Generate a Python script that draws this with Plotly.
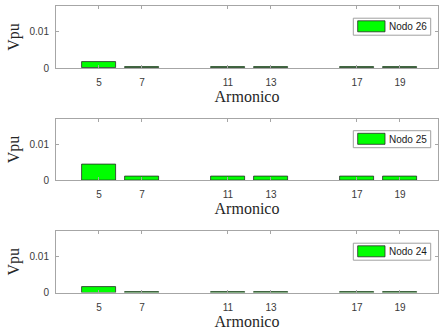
import plotly.graph_objects as go

# Harmonic orders and per-unit harmonic voltage at each node
armonicos = [5, 7, 11, 13, 17, 19]
nodo_26 = [0.0017, 0.0003, 0.0003, 0.0003, 0.0003, 0.0003]
nodo_25 = [0.0043, 0.0010, 0.0010, 0.0010, 0.0010, 0.0010]
nodo_24 = [0.0015, 0.0003, 0.0003, 0.0003, 0.0003, 0.0003]
nombres = ["Nodo 26", "Nodo 25", "Nodo 24"]
series = [nodo_26, nodo_25, nodo_24]
xticks = [5, 7, 11, 13, 17, 19]
yticks = [0, 0.01]

W, H = 440, 332
AX_L, AX_R = 56, 438
panel_px = [(6, 68), (118.5, 180.3), (231, 292.6)]  # top, bottom in pixels

GREEN = "#00ff00"
EDGE = "#2a2a2a"
AXC = "#a6a6a6"
TXT = "#3a3a3a"


def px(x):
    return x / W


def py(y):
    return 1 - y / H


fig = go.Figure()
shapes = []
annotations = []

for i, (name, vals) in enumerate(zip(nombres, series)):
    n = "" if i == 0 else str(i + 1)
    top, bot = panel_px[i]
    fig.add_trace(go.Bar(
        x=armonicos, y=vals, width=1.6, name=name,
        marker=dict(color=GREEN, line=dict(color=EDGE, width=0.8)),
        xaxis="x" + n, yaxis="y" + n, showlegend=False,
    ))
    common = dict(
        showline=True, linecolor=AXC, linewidth=1, mirror="ticks",
        ticks="inside", ticklen=3, tickcolor=AXC, showgrid=False,
        zeroline=False, automargin=False,
        tickfont=dict(family="Liberation Sans", size=10, color=TXT),
    )
    fig.layout["xaxis" + n] = dict(
        domain=[px(AX_L), px(AX_R)], anchor="y" + n, range=[3, 20.77],
        tickmode="array", tickvals=xticks, ticklabelstandoff=5,
        title=dict(text="Armonico", standoff=3,
                   font=dict(family="Liberation Serif", size=16, color="#262626")),
        **common,
    )
    fig.layout["yaxis" + n] = dict(
        domain=[py(bot), py(top)], anchor="x" + n, range=[0, 0.0171],
        tickmode="array", tickvals=yticks, ticktext=["0", "0.01"],
        ticklabelstandoff=4,
        title=dict(text="Vpu", standoff=5,
                   font=dict(family="Liberation Serif", size=16, color="#262626")),
        **common,
    )

    # legend box for the panel
    bt = top + 12.2
    bb = bt + 17
    shapes.append(dict(type="rect", xref="paper", yref="paper",
                       x0=px(353.3), x1=px(430.7), y0=py(bb), y1=py(bt),
                       line=dict(color="#a0a0a0", width=1), fillcolor="white", layer="above"))
    shapes.append(dict(type="rect", xref="paper", yref="paper",
                       x0=px(357.7), x1=px(385), y0=py(bt + 13.6), y1=py(bt + 2.6),
                       line=dict(color=EDGE, width=0.8), fillcolor=GREEN, layer="above"))
    annotations.append(dict(text=name, xref="paper", yref="paper",
                            x=px(386.5), y=py((bt + bb) / 2), xanchor="left", yanchor="middle",
                            showarrow=False,
                            font=dict(family="Liberation Sans", size=10, color="#1a1a1a")))

fig.update_layout(
    width=W, height=H, margin=dict(l=0, r=0, t=0, b=0),
    paper_bgcolor="white", plot_bgcolor="white",
    shapes=shapes, annotations=annotations, showlegend=False, bargap=0,
)

fig.write_html("out.html")
